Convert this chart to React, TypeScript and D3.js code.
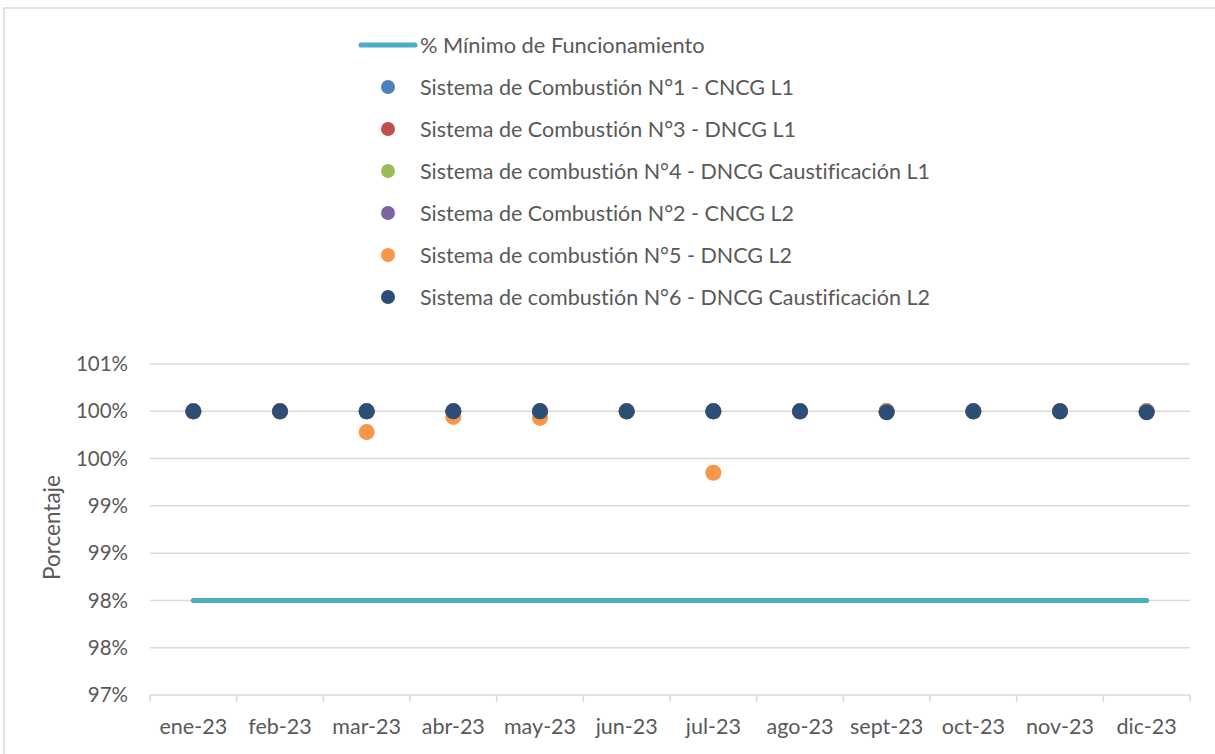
import React from "react";
import * as d3 from "d3";

const months = ["ene-23","feb-23","mar-23","abr-23","may-23","jun-23","jul-23","ago-23","sept-23","oct-23","nov-23","dic-23"];

const minimo = [98,98,98,98,98,98,98,98,98,98,98,98];
const s1 = [100,100,100,100,100,100,100,100,100,100,100,100];
const s3 = [100,100,100,100,100,100,100,100,100,100,100,100];
const s4 = [100,100,100,100,100,100,100,100,100,100,100,100];
const s2 = [100,100,100,100,100,100,100,100,100,100,100,100];
const s5 = [100,100,99.78,99.94,99.93,100,99.35,100,100,100,100,100];
const s6 = [100,100,100,100,100,100,100,100,99.99,100,100,99.99];

const yTicks = [97,97.5,98,98.5,99,99.5,100,100.5];
const yTickLabels = ["97%","98%","98%","99%","99%","100%","100%","101%"];

const lineName = "% Mínimo de Funcionamiento";
const seriesNames = [
  "Sistema de Combustión N°1 - CNCG L1",
  "Sistema de Combustión N°3 - DNCG L1",
  "Sistema de combustión N°4 - DNCG Caustificación L1",
  "Sistema de Combustión N°2 - CNCG L2",
  "Sistema de combustión N°5 - DNCG L2",
  "Sistema de combustión N°6 - DNCG Caustificación L2",
];
const seriesValues = [s1, s3, s4, s2, s5, s6];
const seriesColors = ["#4F81BD","#C0504D","#9BBB59","#8064A2","#F79646","#2C4D75"];
const lineColor = "#4BACC6";

const W = 1215, H = 754;
const plot = { left: 150, right: 1190, top: 364, bottom: 695 };
const font = "Lato, 'Open Sans', sans-serif";
const textColor = "#595959";
const gridColor = "#D9D9D9";

export default function App() {
  const x = d3.scaleBand<string>().domain(months).range([plot.left, plot.right]).padding(0);
  const y = d3.scaleLinear().domain([97, 100.5]).range([plot.bottom, plot.top]);
  const cx = (m: string) => (x(m) as number) + x.bandwidth() / 2;

  const linePath = d3.line<number>()
    .x((_, i) => cx(months[i]))
    .y((d) => y(d))(minimo) as string;

  const boundaries = months.map((m) => x(m) as number).concat([plot.right]);

  const legendX = 388, legendTextX = 420, legendY0 = 45, legendStep = 42;

  return (
    <svg width={W} height={H} style={{ position: "absolute", left: 0, top: 0, background: "#fff", fontVariantLigatures: "none" }}
      fontFamily={font}>
      <rect x={4} y={8} width={W + 10} height={H + 10} fill="#fff" stroke={gridColor} strokeWidth={1.5} />
      {/* gridlines */}
      {yTicks.map((t, i) => (
        i === 0 ? null :
        <line key={"g" + i} x1={plot.left} x2={plot.right} y1={y(t)} y2={y(t)} stroke={gridColor} strokeWidth={1.5} />
      ))}
      {/* x axis */}
      <line x1={plot.left} x2={plot.right} y1={plot.bottom} y2={plot.bottom} stroke={gridColor} strokeWidth={1.5} />
      {boundaries.map((b, i) => (
        <line key={"t" + i} x1={b} x2={b} y1={plot.bottom} y2={plot.bottom + 7} stroke={gridColor} strokeWidth={1.5} />
      ))}
      {/* y labels */}
      {yTicks.map((t, i) => (
        <text key={"yl" + i} x={128} y={y(t)} dy="0.35em" textAnchor="end" fontSize={20.5} fill={textColor}>{yTickLabels[i]}</text>
      ))}
      {/* x labels */}
      {months.map((m) => (
        <text key={"xl" + m} x={cx(m)} y={734} textAnchor="middle" fontSize={21.5} fill={textColor}>{m}</text>
      ))}
      {/* y axis title */}
      <text transform={`translate(60,${(plot.top + plot.bottom) / 2 - 2}) rotate(-90)`} textAnchor="middle" fontSize={22.5} fill={textColor}>Porcentaje</text>
      {/* min line */}
      <path d={linePath} fill="none" stroke={lineColor} strokeWidth={5} strokeLinecap="round" />
      {/* scatter */}
      {seriesValues.map((vals, si) => (
        <g key={"s" + si}>
          {vals.map((v, i) => (
            <circle key={i} cx={cx(months[i])} cy={y(v)} r={8} fill={seriesColors[si]} />
          ))}
        </g>
      ))}
      {/* legend */}
      <line x1={361} x2={415} y1={legendY0} y2={legendY0} stroke={lineColor} strokeWidth={5} strokeLinecap="round" />
      <text x={legendTextX} y={legendY0} dy="0.35em" fontSize={21.8} fill={textColor}>{lineName}</text>
      {seriesNames.map((n, i) => (
        <g key={"lg" + i}>
          <circle cx={legendX} cy={legendY0 + legendStep * (i + 1)} r={7} fill={seriesColors[i]} />
          <text x={legendTextX} y={legendY0 + legendStep * (i + 1)} dy="0.35em" fontSize={21.5} fill={textColor}>{n}</text>
        </g>
      ))}
    </svg>
  );
}
